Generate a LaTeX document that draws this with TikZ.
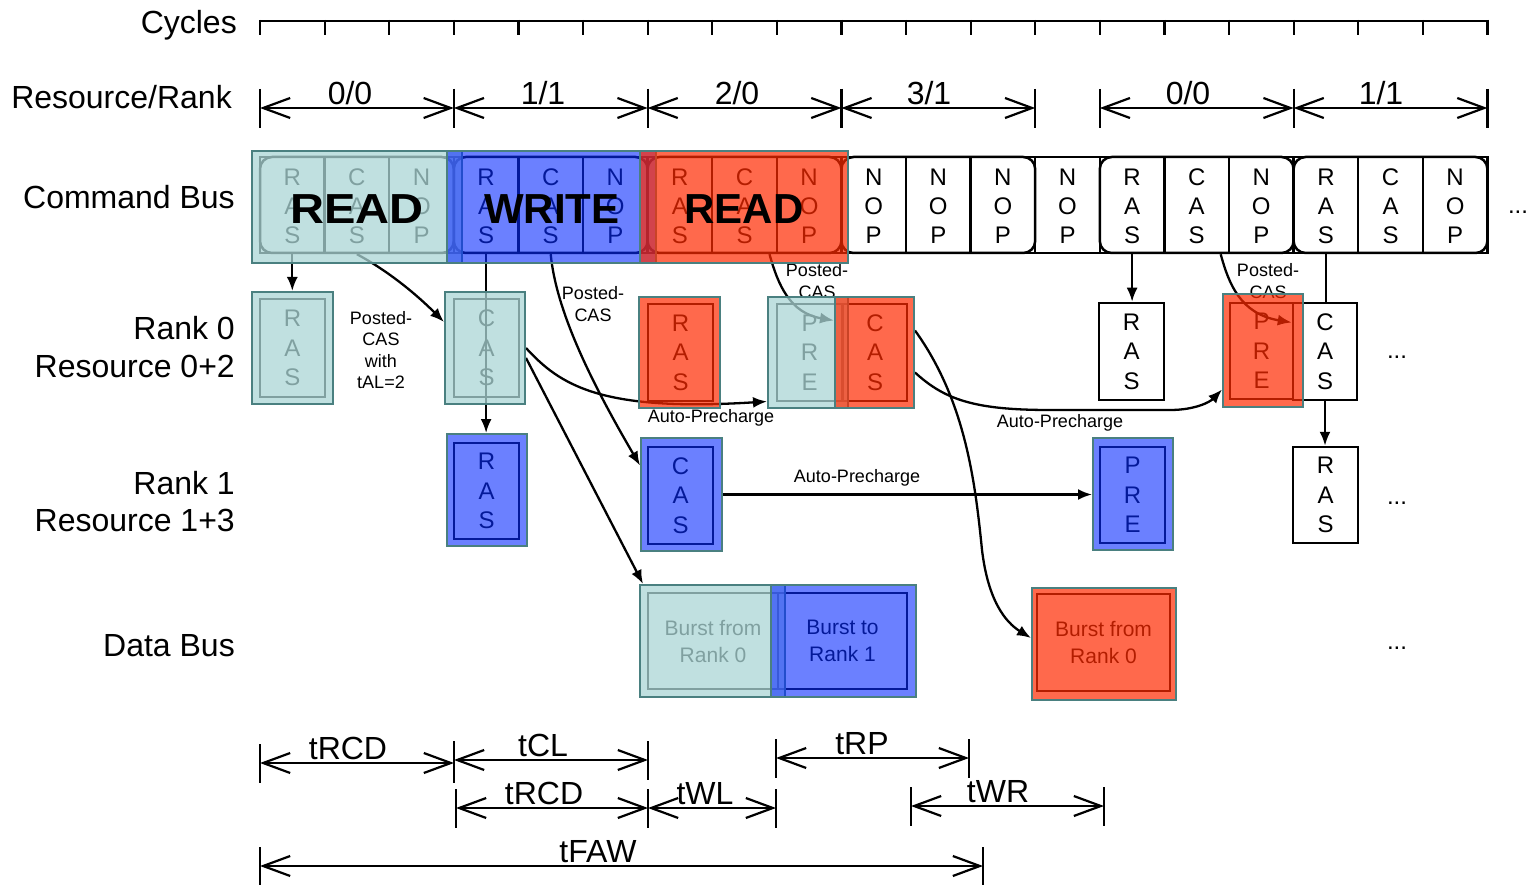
\documentclass[tikz,border=0pt]{standalone}
\usepackage{graphicx}
\usepackage{fontspec}
\setmainfont{Liberation Sans}
\usetikzlibrary{arrows.meta}
\definecolor{tealF}{RGB}{171,214,214}
\definecolor{blueF}{RGB}{8,43,255}
\definecolor{redF}{RGB}{255,42,0}
\definecolor{ovEdge}{RGB}{74,128,128}
\pgfdeclarelayer{over}
\pgfdeclarelayer{top}
\pgfsetlayers{main,over,top}
\newcommand{\fsz}[2]{\fontsize{#1}{#2}\selectfont}
\newcommand{\obox}[7]{\node[#1,minimum width={#5-#3},minimum height={#6-#4}] (#2) at ({(#3+#5)/2},{(#4+#6)/2}) {#7};}
\newcommand{\dimarr}[7]{%
  \draw[dimbar] (#2,{#4-19}) -- (#2,{#4+20});
  \draw[dimbar] (#3,{#4-19}) -- (#3,{#4+20});
  \draw[dimline] (#2,#4) -- (#3,#4);
  \node[dimlbl] (#1) at (#6,#7) {#5};}
\tikzset{
 rowlbl/.style={font=\fsz{32}{38}, anchor=base east, inner sep=0pt},
 cell/.style={minimum width=64.6pt, minimum height=96pt, inner sep=0pt, align=center, font=\fsz{24}{29}},
 cbox/.style={draw, line width=2.5pt, inner sep=0pt, align=center, font=\fsz{24}{29.5}},
 bbox/.style={draw, line width=2.5pt, inner sep=0pt, align=center, font=\fsz{21}{27}},
 ovl/.style={draw=ovEdge, line width=2pt, inner sep=0pt, fill opacity=#1},
 ovteal/.style={ovl=0.75, fill=tealF},
 ovblue/.style={ovl=0.6, fill=blueF},
 ovred/.style={ovl=0.7, fill=redF},
 bigtxt/.style={font=\fsz{42}{48}\bfseries, inner sep=0pt},
 conn/.style={line width=2.3pt, -{Latex[length=14pt,width=11pt]}},
 small/.style={font=\fsz{18}{21.5}, align=center, inner sep=0pt},
 dimbar/.style={line width=2.2pt},
 dimline/.style={line width=2.2pt, {Straight Barb[length=27pt,width=20pt]}-{Straight Barb[length=27pt,width=20pt]}},
 dimlbl/.style={font=\fsz{32}{38}, anchor=base, inner sep=0pt},
 dots/.style={font=\fsz{24}{29}, inner sep=0pt},
 bus/.style={line width=2.5pt},
}
\begin{document}
\begin{tikzpicture}[x=1pt,y=-1pt]
\useasboundingbox (0,0) rectangle (1531,885);

% row labels
\node[rowlbl] (lcyc) at (237,33.5) {Cycles};
\node[rowlbl] (lres) at (232,108.5) {Resource/Rank};
\node[rowlbl] (lcmd) at (235,208.5) {Command Bus};
\node[rowlbl] (lr0a) at (235,339.5) {Rank 0};
\node[rowlbl] (lr0b) at (235,377.5) {Resource 0+2};
\node[rowlbl] (lr1a) at (235,494.5) {Rank 1};
\node[rowlbl] (lr1b) at (235,531.5) {Resource 1+3};
\node[rowlbl] (ldb) at (235,656.5) {Data Bus};

% cycles ruler
\draw[line width=2.2pt] (260,21) -- (1487.4,21);
\foreach \k in {0,...,19} \draw[line width=2.2pt] ({260+64.6*\k},20) -- ({260+64.6*\k},35);

% resource / rank
\dimarr{rr1}{260}{453.8}{108}{0/0}{350}{104.5}
\dimarr{rr2}{453.8}{647.6}{108}{1/1}{543}{104.5}
\dimarr{rr3}{647.6}{841.4}{108}{2/0}{737}{104.5}
\dimarr{rr4}{841.4}{1035.2}{108}{3/1}{929}{104.5}
\dimarr{rr5}{1099.8}{1293.6}{108}{0/0}{1188}{104.5}
\dimarr{rr6}{1293.6}{1487.4}{108}{1/1}{1381}{104.5}

% command bus
\foreach \txt [count=\k from 0] in {{R\\A\\S},{C\\A\\S},{N\\O\\P},{R\\A\\S},{C\\A\\S},{N\\O\\P},{R\\A\\S},{C\\A\\S},{N\\O\\P},{N\\O\\P},{N\\O\\P},{N\\O\\P},{N\\O\\P},{R\\A\\S},{C\\A\\S},{N\\O\\P},{R\\A\\S},{C\\A\\S},{N\\O\\P}}
  \node[cell] (c\k) at ({260+64.6*\k+32.3},206) {\txt};
\draw[bus] (260,157) rectangle (1487.4,253);
\foreach \a/\b in {0/3,3/6,6/9,9/12,13/16,16/19}
  \draw[bus, rounded corners=12pt] ({260+64.6*\a},157) rectangle ({260+64.6*\b},253);
\foreach \k in {1,...,18} \draw[bus] ({260+64.6*\k},157) -- ({260+64.6*\k},253);
\node[dots] (dcmd) at (1518,212) {...};

% rank boxes
\obox{cbox}{r0ras}{260}{299}{325}{397}{R\\A\\S}
\obox{cbox}{r0cas}{454}{299}{519}{397}{C\\A\\S}
\obox{cbox}{r0ras2}{648}{304}{713}{401}{R\\A\\S}
\obox{cbox}{r0pre}{777}{304}{842}{401}{P\\R\\E}
\obox{cbox}{r0cas2}{843}{304}{907}{401}{C\\A\\S}
\obox{cbox}{r0ras3}{1099}{303}{1164}{400}{R\\A\\S}
\obox{cbox}{r0pre2}{1230}{303}{1293}{399}{P\\R\\E}
\obox{cbox}{r0cas3}{1293}{303}{1357}{400}{C\\A\\S}
\obox{cbox}{r1ras}{454}{443}{519}{539}{R\\A\\S}
\obox{cbox}{r1cas}{648}{447}{713}{544}{C\\A\\S}
\obox{cbox}{r1pre}{1100}{447}{1165}{543}{P\\R\\E}
\obox{cbox}{r1ras2}{1293}{447}{1358}{543}{R\\A\\S}
\obox{bbox}{db0}{648}{593}{778}{689}{Burst from\\Rank 0}
\obox{bbox}{db1}{778}{593}{907}{689}{Burst to\\Rank 1}
\obox{bbox}{db2}{1037}{594}{1170}{691}{Burst from\\Rank 0}
\node[dots] (d0) at (1397,357) {...};
\node[dots] (d1) at (1397,503) {...};
\node[dots] (d2) at (1397,648) {...};

% overlays
\begin{pgfonlayer}{over}
\obox{ovteal}{oRead}{252}{151}{462}{263}{}
\obox{ovblue}{oWrite}{447}{151}{656}{263}{}
\obox{ovred}{oRead2}{640}{151}{848}{263}{}
\obox{ovteal}{r0rasO}{252}{292}{333}{404}{}
\obox{ovteal}{r0casO}{445}{292}{525}{404}{}
\obox{ovred}{r0ras2O}{639}{297}{720}{408}{}
\obox{ovteal}{r0preO}{768}{297}{848}{408}{}
\obox{ovred}{r0cas2O}{835}{297}{914}{408}{}
\obox{ovred}{r0pre2O}{1223}{294}{1303}{407}{}
\obox{ovblue}{r1rasO}{447}{434}{527}{546}{}
\obox{ovblue}{r1casO}{641}{438}{722}{551}{}
\obox{ovblue}{r1preO}{1093}{438}{1173}{550}{}
\obox{ovteal}{db0O}{640}{585}{785}{697}{}
\obox{ovblue}{db1O}{771}{585}{916}{697}{}
\obox{ovred}{db2O}{1032}{588}{1176}{700}{}
\end{pgfonlayer}
\begin{pgfonlayer}{top}
\node[bigtxt] (tRead) at (357,209) {\scalebox{1.12}[1]{READ}};
\node[bigtxt] (tWrite) at (552,209) {WRITE};
\node[bigtxt] (tRead2) at (744,209) {READ};
\end{pgfonlayer}

% connectors
\draw[conn] (c0.south) -- (c0.south |- r0rasO.north);
\draw[conn] (c1.south) .. controls (390,272) and (418,296) .. ([yshift=26pt]r0casO.west);
\draw[conn] (c3.south) -- (c3.south |- r1rasO.north);
\draw[conn] (c4.south) .. controls (556,310) and (590,380) .. ([yshift=29pt]r1casO.west);
\draw[conn] (r0casO.east) .. controls (560,385) and (600,412) .. ([yshift=-49pt]r0preO.west);
\draw[conn] ([yshift=-10pt]r0casO.east) -- ([xshift=4pt]db0O.north west);
\draw[conn] ([xshift=25pt]c7.south) .. controls (778,285) and (790,313) .. ([yshift=32pt]r0cas2O.west);
\draw[conn] ([yshift=22pt]r0cas2O.east) .. controls (965,400) and (975,480) .. (982,550) .. controls (988,600) and (1005,622) .. ([yshift=6pt]db2O.west);
\draw[conn] ([yshift=-20pt]r0cas2O.east) .. controls (945,400) and (975,410) .. (1050,410) -- (1170,410) .. controls (1195,410) and (1210,402) .. ([yshift=-39pt]r0pre2O.west);
\draw[conn] (r1casO.east) -- (r1casO.east -| r1preO.west);
\draw[conn] (c13.south) -- (c13.south |- r0ras3.north);
\draw[conn] ([xshift=24pt]c14.south) .. controls (1229,285) and (1241,314) .. ([yshift=29pt]r0cas3.west);
\draw[line width=2.3pt] (c16.south) -- (c16.south |- r0cas3.north);
\draw[conn] (r0cas3.south) -- (r0cas3.south |- r1ras2.north);

% connector labels
\node[small] (pc1) at (381,350) {Posted-\\CAS\\with\\tAL=2};
\node[small] (pc2) at (593,304) {Posted-\\CAS};
\node[small] (pc3) at (817,281) {Posted-\\CAS};
\node[small] (pc4) at (1268,281) {Posted-\\CAS};
\node[small] (ap1) at (711,418) {Auto-Precharge};
\node[small] (ap2) at (1060,423) {Auto-Precharge};
\node[small] (ap3) at (857,478) {Auto-Precharge};

% timing
\dimarr{tm1}{260}{454}{763}{tRCD}{348}{759}
\dimarr{tm2}{454}{648}{760}{tCL}{543}{756}
\dimarr{tm3}{456}{648}{808}{tRCD}{544}{804}
\dimarr{tm4}{648}{776}{808}{tWL}{705}{804}
\dimarr{tm5}{776}{969}{758}{tRP}{862}{754}
\dimarr{tm6}{911}{1104}{806}{tWR}{998}{802}
\dimarr{tm7}{260}{983}{866}{tFAW}{598}{862}
\end{tikzpicture}
\end{document}
